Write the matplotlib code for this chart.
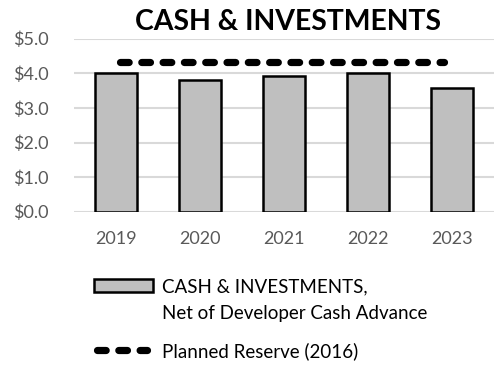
import numpy as np
import matplotlib
matplotlib.use('Agg')
import matplotlib.pyplot as plt
from matplotlib.patches import Rectangle
from matplotlib.lines import Line2D

years = ['2019', '2020', '2021', '2022', '2023']
cash = [4.00, 3.81, 3.92, 4.02, 3.58]
reserve = 4.33
yticks = [0, 1, 2, 3, 4, 5]

plt.rcParams['font.family'] = ['Lato', 'DejaVu Sans']

W, H = 500, 368
fig = plt.figure(figsize=(5, 3.68), dpi=100)
ax = fig.add_axes([0.148, 0.4247, 0.84, 0.4701])

x = np.arange(len(years))
ax.bar(x, cash, width=0.51, color='#bfbfbf', edgecolor='black', linewidth=1.8, zorder=3)
# planned reserve, dashed across the years
ax.plot([x[0] + 0.05, x[-1] - 0.1], [reserve, reserve], color='black', linewidth=5.2,
        dashes=(1.2, 1.75), dash_capstyle='round', zorder=4)

ax.set_xlim(-0.5, 4.5)
ax.set_ylim(0, 5)
ax.set_yticks(yticks)
ax.set_yticklabels(['$%.1f' % v for v in yticks])
ax.set_xticks(x)
ax.set_xticklabels(years)
ax.tick_params(axis='both', length=0, labelsize=13, colors='#595959')
ax.tick_params(axis='x', pad=14)
ax.tick_params(axis='y', pad=18)
ax.grid(axis='y', color='#d9d9d9', linewidth=1.5, zorder=0)
for s in ax.spines.values():
    s.set_visible(False)

fig.text(0.576, 0.94, 'CASH & INVESTMENTS', ha='center', va='center',
         fontsize=20.4, fontweight='bold', color='black')

# legend (drawn by hand to match the layout)
fig.patches.append(Rectangle((94 / W, 1 - 292 / H), 59 / W, 13 / H, transform=fig.transFigure,
                             facecolor='#bfbfbf', edgecolor='black', linewidth=1.8))
fig.text(162 / W, 1 - 287 / H, 'CASH & INVESTMENTS,', ha='left', va='center', fontsize=13.5)
fig.text(162 / W, 1 - 313 / H, 'Net of Developer Cash Advance', ha='left', va='center', fontsize=13.5)
fig.lines.append(Line2D([97 / W, 147 / W], [1 - 350 / H, 1 - 350 / H], transform=fig.transFigure,
                        color='black', linewidth=5.2, dashes=(1.2, 1.75), dash_capstyle='round'))
fig.text(162 / W, 1 - 351 / H, 'Planned Reserve (2016)', ha='left', va='center', fontsize=13.5)

fig.savefig('out.png', dpi=100)
